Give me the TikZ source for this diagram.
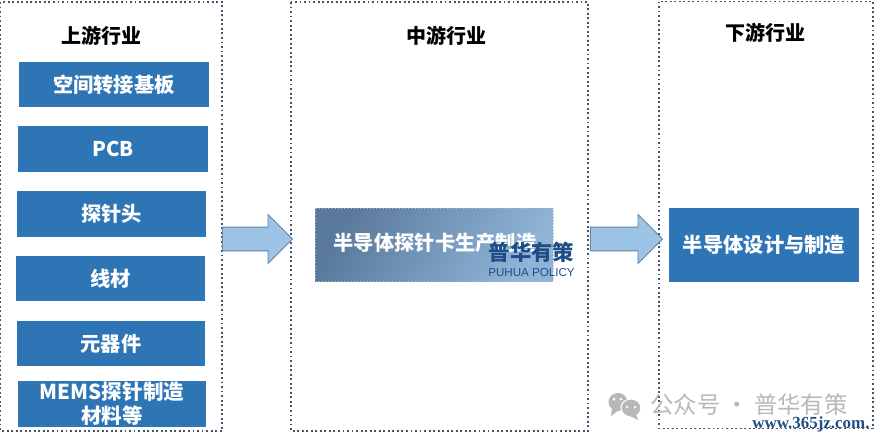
\documentclass[tikz,border=0pt]{standalone}
\usepackage{fontspec}
\setmainfont{Noto Sans CJK SC}
\newfontfamily\markfont{Liberation Sans}
\newfontfamily\urlfont{Liberation Serif}
\usepackage{xcolor}
\usetikzlibrary{calc,shapes.arrows}
\definecolor{bar}{HTML}{2E75B6}
\definecolor{dots}{HTML}{44546A}
\definecolor{arrowfill}{HTML}{9DC3E6}
\definecolor{arrowline}{HTML}{5F84A8}
\definecolor{stamp}{HTML}{1F4E86}
\definecolor{mutedmark}{HTML}{B8B8B8}
\definecolor{shadeleft}{HTML}{5A7A9C}
\definecolor{shaderight}{HTML}{8FB4D8}
\tikzset{
  panel/.style={draw=dots, line width=1.4pt, dotted, fill=white, inner sep=0pt},
  head/.style={text=black, font=\fontsize{15pt}{16pt}\selectfont\bfseries},
  bar/.style={fill=bar, text=white, inner sep=0pt, font=\fontsize{15.2pt}{16pt}\selectfont\bfseries, align=center},
  flow/.style={single arrow, draw=arrowline, fill=arrowfill, line width=0.7pt, text height=17pt, text depth=0pt,
    single arrow head extend=9.5pt, inner sep=0pt, minimum width=36pt, anchor=tail},
}
\begin{document}
\begin{tikzpicture}[x=0.75pt,y=-0.75pt]
  \useasboundingbox (0,0) rectangle (875,440);
  \fill[white] (0,0) rectangle (875,440);
  % panels
  \draw[panel] (0.5,2) rectangle (222,431);
  \draw[panel] (291,2) rectangle (588,431);
  \draw[panel] (659,1.5) rectangle (873,428.5);
  \node[head] (up) at (101,36) {上游行业};
  \node[head] (mid) at (446,36) {中游行业};
  \node[head] (down) at (765,33) {下游行业};
  % left column
  \node[bar, minimum width=142.5pt, minimum height=33.5pt] (b1) at (114,84.5) {空间转接基板};
  \node[bar, minimum width=142pt, minimum height=34pt] (b2) at (113,149) {PCB};
  \node[bar, minimum width=141.5pt, minimum height=34pt] (b3) at (111.5,214) {探针头};
  \node[bar, minimum width=141.5pt, minimum height=33.5pt] (b4) at (110.5,278.5) {线材};
  \node[bar, minimum width=141.5pt, minimum height=33.5pt] (b5) at (111,343.5) {元器件};
  \node[bar, minimum width=141.5pt, minimum height=34pt, font=\fontsize{15.4pt}{18pt}\selectfont\bfseries] (b6) at (112,404) {MEMS探针制造\\材料等};
  % centre
  \shade[top color=shadeleft, bottom color=shaderight, shading angle=60, draw=mutedmark, dotted] (315,208) rectangle (553,281);
  \node[text=white, font=\fontsize{15.2pt}{16pt}\selectfont\bfseries, anchor=west] (core) at (329,243) {半导体探针卡生产制造};
  \node[bar, minimum width=142.5pt, minimum height=55pt] (end) at (764,245) {半导体设计与制造};
  % arrows
  \node[flow, minimum height=52.5pt] (f1) at (222,239) {};
  \node[flow, minimum height=54pt] (f2) at (590,239) {};
  % marks
  \node[text=stamp, font=\fontsize{16pt}{17pt}\selectfont\bfseries] (logo) at (531.5,252) {普华有策};
  \node[text=stamp, font=\markfont\fontsize{8.7pt}{10pt}\selectfont] (sub) at (531.5,273) {PUHUA POLICY};
  \node[text=mutedmark, font=\fontsize{17.5pt}{18pt}\selectfont] (wm) at (749,405) {公众号 · 普华有策};
  \node[text=stamp, font=\urlfont\fontsize{12.7pt}{13pt}\selectfont\bfseries] (url) at (811,424) {www.365jz.com.};
  % chat icon
  \fill[mutedmark] (618,402) ellipse (9.5 and 9);
  \fill[mutedmark] (612,408) -- (611,416) -- (619,410) -- cycle;
  \fill[mutedmark, draw=white, line width=0.8pt] (631,408) ellipse (10 and 9);
  \fill[mutedmark] (636,414) -- (638,420) -- (630,416) -- cycle;
  \fill[white] (614,399) circle (1.5) (621,399) circle (1.5) (627,407) circle (1.4) (635,407) circle (1.4);
\end{tikzpicture}
\end{document}
